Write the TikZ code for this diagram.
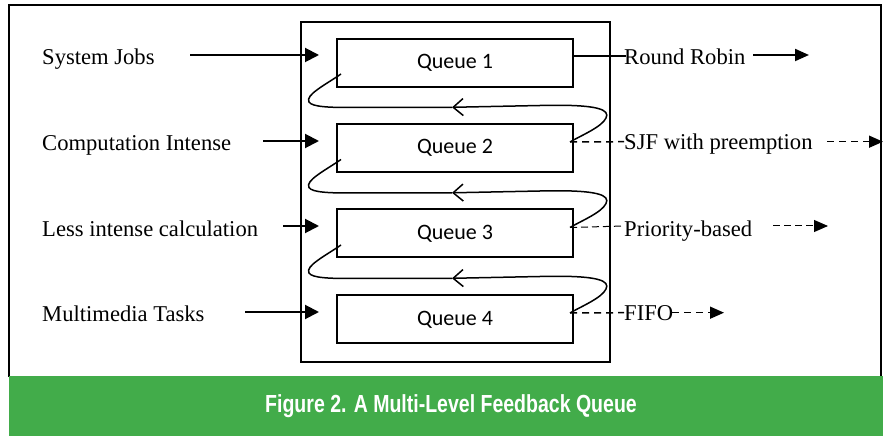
\documentclass[tikz,border=0pt]{standalone}
\usepackage{fontspec}
\setmainfont{Liberation Serif}
\newfontfamily\qfont{Carlito}
\newfontfamily\capfont{Liberation Sans}
\usetikzlibrary{arrows.meta}
\definecolor{capgreen}{RGB}{66,172,74}
\tikzset{
  queuebox/.style={draw, line width=2bp, minimum width=236bp, minimum height=48bp, inner sep=0pt,
    font=\qfont\fontsize{22bp}{26bp}\selectfont},
  lbl/.style={anchor=base west, inner sep=0pt, font=\fontsize{22.6bp}{27bp}\selectfont},
  inarrow/.style={line width=2bp, -{Triangle[length=14bp,width=14bp]}},
  outsolid/.style={line width=2bp},
  outdash/.style={line width=1.5bp, dash pattern=on 7bp off 5bp},
  outthin/.style={line width=1bp, dash pattern=on 7bp off 4bp},
  tiparrow/.style={-{Triangle[length=14bp,width=12bp]}},
  fbline/.style={line width=1.5bp},
  fbtip/.style={line width=1.5bp, {Straight Barb[length=10bp,width=17bp]}-},
}
\begin{document}
\begin{tikzpicture}[x=1bp,y=-1bp]
\useasboundingbox (0,0) rectangle (887,437);
\fill[white] (0,0) rectangle (887,437);
% outer frame and caption band
\draw[line width=1.7bp] (9,377) -- (9,5) -- (881,5) -- (881,377);
\fill[capgreen] (8.5,376) rectangle (883,436);
\node[text=white, font=\capfont\bfseries\fontsize{24.7bp}{28bp}\selectfont] (cap) at (451,406)
  {\scalebox{0.79}[1]{Figure 2. A Multi-Level Feedback Queue}};
% inner box
\draw[line width=2bp] (301,22) rectangle (610,362.5);
% queues
\node[queuebox] (q1) at (455,63) {Queue 1};
\node[queuebox] (q2) at (455,148) {Queue 2};
\node[queuebox] (q3) at (455,233.5) {Queue 3};
\node[queuebox] (q4) at (455,319.5) {Queue 4};
% left labels
\node[lbl] (s1) at (42,65) {System Jobs};
\node[lbl] (s2) at (42,151) {Computation Intense};
\node[lbl] (s3) at (42,237) {Less intense calculation};
\node[lbl] (s4) at (42,322) {Multimedia Tasks};
% right labels
\node[lbl] (r1) at (624,65) {Round Robin};
\node[lbl] (r2) at (624,150) {SJF with preemption};
\node[lbl] (r3) at (624,237) {Priority-based};
\node[lbl] (r4) at (624,321) {FIFO};
% input arrows
\coordinate (i1a) at (190,55);  \coordinate (i1b) at (319,55);
\coordinate (i2a) at (263,141); \coordinate (i2b) at (319,141);
\coordinate (i3a) at (283,226); \coordinate (i3b) at (319,226);
\coordinate (i4a) at (245,312); \coordinate (i4b) at (319,312);
\draw[inarrow] (i1a) -- (i1b);
\draw[inarrow] (i2a) -- (i2b);
\draw[inarrow] (i3a) -- (i3b);
\draw[inarrow] (i4a) -- (i4b);
% feedback curves
\foreach \k/\dy in {1/0,2/85.5,3/171}{
  \coordinate (fs\k) at (341,74+\dy);
  \coordinate (fm\k) at (452,107.3+\dy);
  \coordinate (ft\k) at (570,142+\dy);
  \draw[fbline] (fs\k) .. controls (325,85+\dy) and (305,95+\dy) .. (309,102+\dy)
     .. controls (312,107+\dy) and (330,107.5+\dy) .. (350,107.5+\dy) -- (fm\k);
  \draw[fbtip] (fm\k) -- (540,105.5+\dy) .. controls (600,104+\dy) and (610,110+\dy) .. (606,118+\dy)
     .. controls (602,127+\dy) and (580,136+\dy) .. (ft\k);
}
% output connectors
\coordinate (o1) at (573,56);
\coordinate (o1e) at (626,56);
\draw[outsolid] (o1) -- (o1e);
\coordinate (o2e) at (624,141.7);
\draw[outdash] (ft1) -- (o2e);
\coordinate (o3e) at (624,226);
\draw[outthin] (ft2) -- (o3e);
\coordinate (o4e) at (624,312.7);
\draw[outdash] (ft3) -- (o4e);
% output arrows
\coordinate (p1a) at (753,55);   \coordinate (p1b) at (809,55);
\coordinate (p2a) at (827,141.7); \coordinate (p2b) at (883,141.7);
\coordinate (p3a) at (773,226);  \coordinate (p3b) at (828,226);
\coordinate (p4a) at (672,312.7); \coordinate (p4b) at (724,312.7);
\draw[outsolid, tiparrow] (p1a) -- (p1b);
\draw[outdash, tiparrow] (p2a) -- (p2b);
\draw[outthin, tiparrow] (p3a) -- (p3b);
\draw[outdash, tiparrow] (p4a) -- (p4b);
\end{tikzpicture}
\end{document}
